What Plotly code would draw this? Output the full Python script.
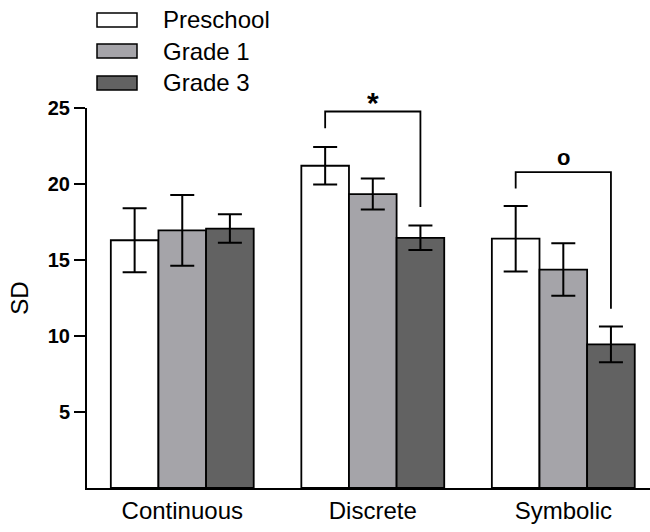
import plotly.graph_objects as go

# Task conditions and age groups
categories = ["Continuous", "Discrete", "Symbolic"]
groups = ["Preschool", "Grade 1", "Grade 3"]

# Mean SD per group and condition, with error-bar half widths
preschool_sd = [16.3, 21.2, 16.4]
preschool_err = [2.1, 1.23, 2.15]
grade1_sd = [16.95, 19.34, 14.37]
grade1_err = [2.33, 1.02, 1.73]
grade3_sd = [17.07, 16.46, 9.45]
grade3_err = [0.94, 0.81, 1.18]

# Significance brackets: condition index, top y, left leg end, right leg end, label
bracket_cond = [1, 2]
bracket_top = [24.77, 20.78]
bracket_left_end = [23.67, 19.7]
bracket_right_end = [18.49, 11.8]
bracket_label = ["*", "o"]
bracket_label_y = [25.35, 21.75]
bracket_label_size = [30, 22]

y_ticks = [5, 10, 15, 20, 25]
Y_MAX = 25

fills = ["#ffffff", "#a5a4a9", "#626262"]
FONT = "Liberation Sans, Arial, sans-serif"

series = [(preschool_sd, preschool_err), (grade1_sd, grade1_err), (grade3_sd, grade3_err)]

fig = go.Figure()
for name, (vals, errs), col in zip(groups, series, fills):
    fig.add_trace(go.Bar(
        x=categories, y=vals, name=name,
        marker=dict(color=col, line=dict(color="#000000", width=1.8)),
        error_y=dict(type="data", array=errs, visible=True,
                     color="#000000", thickness=2, width=12),
        showlegend=False,
    ))

# Layout geometry (pixels)
W, H = 650, 532
L, R, T, B = 87, 0, 108, 44
pw, ph = W - L - R, H - T - B

def px_x(x):
    return (x - L) / pw

def px_y(y):
    return (H - B - y) / ph

shapes = []
annotations = []
bar_off = 0.25
for ci, top, le, re_, lab, ly, fs in zip(bracket_cond, bracket_top, bracket_left_end,
                                         bracket_right_end, bracket_label, bracket_label_y,
                                         bracket_label_size):
    xl, xr = ci - bar_off, ci + bar_off
    shapes.append(dict(type="path", xref="x", yref="y",
                       path=f"M {xl} {le} L {xl} {top} L {xr} {top} L {xr} {re_}",
                       line=dict(color="#000000", width=1.8)))
    # label sits above the bracket; placed in paper units so it is not dropped off-range
    annotations.append(dict(x=ci, y=ly / Y_MAX, xref="x", yref="paper", text=f"<b>{lab}</b>",
                            showarrow=False, font=dict(family=FONT, size=fs, color="#000000"),
                            xanchor="center", yanchor="middle"))

# Legend drawn as boxes with labels above the plot
leg_rows = [20, 51, 83]
for name, col, cy in zip(groups, fills, leg_rows):
    shapes.append(dict(type="rect", xref="paper", yref="paper",
                       x0=px_x(97), x1=px_x(137), y0=px_y(cy + 7), y1=px_y(cy - 7),
                       fillcolor=col, line=dict(color="#000000", width=1.5)))
    annotations.append(dict(x=px_x(161), y=px_y(cy), xref="paper", yref="paper",
                            text=name, showarrow=False, xanchor="left", yanchor="middle",
                            font=dict(family=FONT, size=24, color="#000000")))

fig.update_layout(
    width=W, height=H,
    margin=dict(l=L, r=R, t=T, b=B, pad=0),
    paper_bgcolor="#ffffff", plot_bgcolor="#ffffff",
    barmode="group", bargap=0.25, bargroupgap=0,
    shapes=shapes, annotations=annotations,
    font=dict(family=FONT, color="#000000"),
    xaxis=dict(type="category", range=[-0.5, 2.455], showline=True, linecolor="#000000",
               linewidth=2, ticks="", showgrid=False, zeroline=False,
               tickfont=dict(family=FONT, size=24, color="#000000")),
    yaxis=dict(range=[0, Y_MAX], tickvals=y_ticks, ticktext=[f"<b>{v}</b>" for v in y_ticks],
               showline=True, linecolor="#000000", linewidth=2, ticks="outside",
               ticklen=11, tickwidth=2, tickcolor="#000000", showgrid=False, zeroline=False,
               tickfont=dict(family=FONT, size=20, color="#000000"),
               title=dict(text="SD", font=dict(family=FONT, size=24, color="#000000"), standoff=12)),
)

fig.write_html("out.html")
